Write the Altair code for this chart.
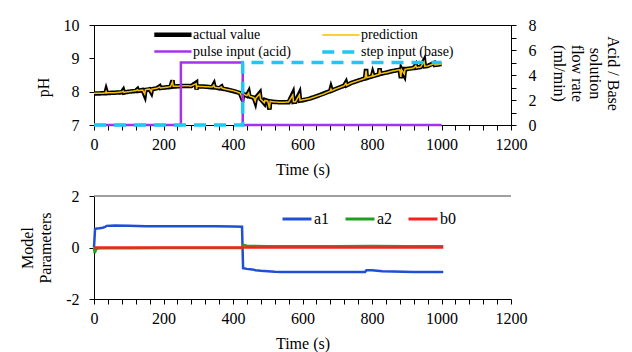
import altair as alt
import pandas as pd

# ---------------- data ----------------
ph_time = [
    0, 20, 33, 35, 37, 40, 60, 80, 84, 86,
    100, 120, 125, 127, 140, 146, 148, 160, 165, 167,
    180, 189, 191, 200, 220, 226, 228, 240, 260, 280,
    294, 295, 297, 300, 320, 340, 345, 347, 360, 367,
    369, 380, 400, 420, 427, 429, 440, 445, 447, 460,
    464, 466, 477, 479, 480, 490, 492, 500, 505, 507,
    520, 540, 560, 572, 574, 580, 591, 593, 600, 620,
    640, 660, 680, 682, 684, 700, 720, 725, 727, 740,
    760, 780, 783, 785, 800, 802, 804, 820, 822, 824,
    840, 860, 880, 883, 885, 893, 895, 900, 920, 926,
    928, 940, 950, 952, 960, 979, 981, 1000]

ph_actual = [
    7.94, 7.95, 7.95, 8.03, 7.96, 7.96, 7.97, 7.98, 8.04, 7.97,
    8.00, 8.02, 8.07, 8.02, 8.05, 7.90, 8.05, 8.07, 7.98, 8.07,
    8.10, 8.16, 8.11, 8.12, 8.14, 8.34, 8.15, 8.16, 8.17, 8.17,
    8.27, 8.06, 8.17, 8.16, 8.15, 8.13, 8.22, 8.13, 8.10, 8.15,
    8.09, 8.07, 8.02, 7.96, 7.78, 7.94, 7.88, 7.98, 7.86, 7.82,
    7.70, 7.82, 7.96, 7.78, 7.77, 7.65, 7.75, 7.72, 7.46, 7.71,
    7.69, 7.68, 7.68, 7.94, 7.69, 7.70, 7.94, 7.73, 7.74, 7.79,
    7.86, 7.94, 8.02, 8.10, 8.03, 8.10, 8.18, 8.27, 8.19, 8.26,
    8.33, 8.40, 8.68, 8.41, 8.46, 8.54, 8.47, 8.52, 8.70, 8.53,
    8.57, 8.62, 8.66, 8.40, 8.66, 8.50, 8.68, 8.68, 8.71, 8.80,
    8.72, 8.74, 8.93, 8.76, 8.77, 8.86, 8.80, 8.83]

ph_pred = [
    7.95, 7.95, 7.96, 8.01, 7.96, 7.97, 7.97, 7.99, 8.02, 7.98,
    8.00, 8.03, 8.06, 8.03, 8.05, 7.93, 8.06, 8.08, 8.00, 8.08,
    8.10, 8.14, 8.11, 8.12, 8.15, 8.30, 8.16, 8.16, 8.18, 8.17,
    8.24, 8.08, 8.17, 8.16, 8.15, 8.14, 8.20, 8.13, 8.11, 8.14,
    8.10, 8.07, 8.03, 7.96, 7.81, 7.93, 7.88, 7.96, 7.87, 7.82,
    7.72, 7.81, 7.93, 7.79, 7.77, 7.67, 7.74, 7.72, 7.50, 7.71,
    7.69, 7.68, 7.69, 7.90, 7.70, 7.70, 7.90, 7.73, 7.75, 7.79,
    7.86, 7.93, 8.02, 8.08, 8.03, 8.10, 8.18, 8.25, 8.19, 8.26,
    8.33, 8.40, 8.63, 8.42, 8.46, 8.52, 8.47, 8.52, 8.66, 8.54,
    8.57, 8.62, 8.66, 8.44, 8.66, 8.53, 8.67, 8.68, 8.71, 8.78,
    8.72, 8.74, 8.90, 8.76, 8.77, 8.84, 8.80, 8.83]

pulse_time = [0, 250, 428, 1000]
pulse_rate = [0, 5, 0, 0]
step_time = [0, 428, 1000]
step_rate = [0, 5, 5]

a1_time = [0, 3, 8, 15, 25, 32, 36, 60, 100, 150, 200, 250, 300, 350, 400, 426,
           429, 440, 455, 465, 480, 500, 520, 540, 600, 700, 780, 784, 800, 815,
           830, 860, 890, 920, 1005]
a1_val = [0.0, 0.72, 0.74, 0.75, 0.77, 0.80, 0.84, 0.85, 0.84, 0.83, 0.83, 0.83,
          0.83, 0.83, 0.82, 0.81, -0.80, -0.83, -0.85, -0.88, -0.90, -0.92, -0.94,
          -0.95, -0.95, -0.95, -0.95, -0.88, -0.88, -0.90, -0.92, -0.93, -0.94,
          -0.95, -0.95]
a2_time = [0, 2, 4, 6, 10, 20, 100, 200, 300, 400, 426, 430, 440, 460, 500, 600,
           700, 800, 900, 1005]
a2_val = [0.0, -0.22, -0.15, -0.08, -0.04, -0.03, -0.03, -0.02, -0.02, -0.02,
          -0.02, 0.10, 0.07, 0.06, 0.05, 0.05, 0.05, 0.06, 0.05, 0.05]
b0_time = [0, 200, 430, 600, 800, 1005]
b0_val = [0.0, 0.0, 0.0, 0.0, 0.0, 0.0]

top_series = ["actual value", "prediction", "pulse input (acid)", "step input (base)"]
top_colors = ["#000000", "#F5C000", "#A133F0", "#1EC8F0"]
top_widths = [4.5, 1.5, 2.5, 3.5]
top_dashes = [[1, 0], [1, 0], [1, 0], [12, 8]]

par_series = ["a1", "a2", "b0"]
par_colors = ["#1F4FD6", "#1FA01F", "#FF1E1E"]

x_ticks = list(range(0, 1201, 40))
ph_ticks = [7, 7.5, 8, 8.5, 9, 9.5, 10]
rate_ticks = [0, 1, 2, 3, 4, 5, 6, 7, 8]
par_ticks = [-2, -1.5, -1, -0.5, 0, 0.5, 1, 1.5, 2]

# ---------------- tables ----------------
rows = []
for name, vals in (("actual value", ph_actual), ("prediction", ph_pred)):
    for i, (t, v) in enumerate(zip(ph_time, vals)):
        rows.append({"t": t, "v": v, "series": name, "idx": i})
ph_df = pd.DataFrame(rows)

rows = []
for name, ts, vs in (("pulse input (acid)", pulse_time, pulse_rate),
                     ("step input (base)", step_time, step_rate)):
    for i, (t, v) in enumerate(zip(ts, vs)):
        rows.append({"t": t, "v": v, "series": name, "idx": i})
flow_df = pd.DataFrame(rows)

rows = []
for name, ts, vs in (("a1", a1_time, a1_val), ("a2", a2_time, a2_val),
                     ("b0", b0_time, b0_val)):
    for i, (t, v) in enumerate(zip(ts, vs)):
        rows.append({"t": t, "p": v, "param": name, "idx": i})
par_df = pd.DataFrame(rows)

FONT = "Liberation Serif"
W, H1, H2 = 417, 100, 103


def x_enc():
    return alt.X("t:Q", scale=alt.Scale(domain=[0, 1200], nice=False, zero=False),
                 axis=alt.Axis(values=x_ticks, format="d", title="Time  (s)",
                               labelExpr="datum.value % 200 === 0 ? datum.label : ''",
                               labelPadding=6, titlePadding=9, labelFlush=False,
                               labelOverlap=False))


top_legend = alt.Legend(title=None, orient="none", legendX=58, legendY=1, columns=2,
                        direction="horizontal", symbolType="M-1,0H5", symbolSize=154,
                        labelFontSize=14, labelFont=FONT, labelOffset=24,
                        columnPadding=24, rowPadding=0, padding=0)
col_top = alt.Color("series:N", scale=alt.Scale(domain=top_series, range=top_colors),
                    legend=top_legend)
sw_top = alt.StrokeWidth("series:N", scale=alt.Scale(type="ordinal", domain=top_series,
                                                     range=top_widths), legend=top_legend)
sd_top = alt.StrokeDash("series:N", scale=alt.Scale(domain=top_series, range=top_dashes),
                        legend=top_legend)

ph_layer = alt.Chart(ph_df).mark_line().encode(
    x=x_enc(),
    y=alt.Y("v:Q", scale=alt.Scale(domain=[7, 10], nice=False, zero=False),
            axis=alt.Axis(values=ph_ticks, title="pH", format="d", titleY=62,
                          labelExpr="datum.value % 1 === 0 ? toString(datum.value) : ''",
                          labelPadding=10, titlePadding=12, labelFlush=False)),
    color=col_top, strokeWidth=sw_top, strokeDash=sd_top,
    order=alt.Order("idx:Q"),
)

flow_layer = alt.Chart(flow_df).mark_line(interpolate="step-after").encode(
    x=x_enc(),
    y=alt.Y("v:Q", scale=alt.Scale(domain=[0, 8], nice=False, zero=False),
            axis=alt.Axis(orient="right", values=rate_ticks,
                          title=["Acid / Base", "solution", "flow rate", "(ml/min)"],
                          titleAngle=90, titleLineHeight=18, titleX=93, titleY=48,
                          titleAlign="center", titleBaseline="bottom",
                          labelExpr="datum.value % 2 === 0 ? toString(datum.value) : ''",
                          labelPadding=12, labelFlush=False)),
    color=col_top, strokeWidth=sw_top, strokeDash=sd_top,
    order=alt.Order("idx:Q"),
)

top = alt.layer(ph_layer, flow_layer).resolve_scale(y="independent").properties(
    width=W, height=H1, view=alt.ViewBackground(stroke="black", strokeWidth=1))

par_legend = alt.Legend(title=None, orient="none", legendX=187, legendY=7,
                        direction="horizontal", symbolType="stroke", symbolSize=841,
                        symbolStrokeWidth=3, labelFontSize=16, labelFont=FONT,
                        labelOffset=1, columnPadding=9, padding=0)

par_lines = alt.Chart(par_df).mark_line(strokeWidth=2.5).encode(
    x=x_enc(),
    y=alt.Y("p:Q", scale=alt.Scale(domain=[-2, 2], nice=False, zero=False),
            axis=alt.Axis(values=par_ticks, title=["Model", "Parameters"],
                          titleLineHeight=18,
                          labelExpr="datum.value % 1 === 0 ? toString(datum.value) : ''",
                          labelPadding=10, titlePadding=12, labelFlush=False)),
    color=alt.Color("param:N", scale=alt.Scale(domain=par_series, range=par_colors),
                    legend=par_legend),
    order=alt.Order("idx:Q"),
)
top_line = alt.Chart(pd.DataFrame({"p": [2]})).mark_rule(color="#808080", strokeWidth=1.5).encode(
    y=alt.Y("p:Q"))

bottom = alt.layer(par_lines, top_line).properties(
    width=W, height=H2, view=alt.ViewBackground(stroke="transparent"))

chart = alt.vconcat(top, bottom, spacing=71, bounds="flush").resolve_scale(
    color="independent", strokeWidth="independent", strokeDash="independent"
).resolve_legend(
    color="independent", strokeWidth="independent", strokeDash="independent"
).properties(
    padding={"left": 11, "top": 8, "right": 0, "bottom": 0}
).configure_axis(
    labelFont=FONT, titleFont=FONT, labelFontSize=16, titleFontSize=16,
    labelColor="black", titleColor="black", domainColor="black", tickColor="black",
    titleFontWeight="normal", grid=False, tickSize=5, domainWidth=1, tickWidth=1,
).configure_legend(labelColor="black")

chart.save("out.html", embed_options={"renderer": "svg", "actions": False})
